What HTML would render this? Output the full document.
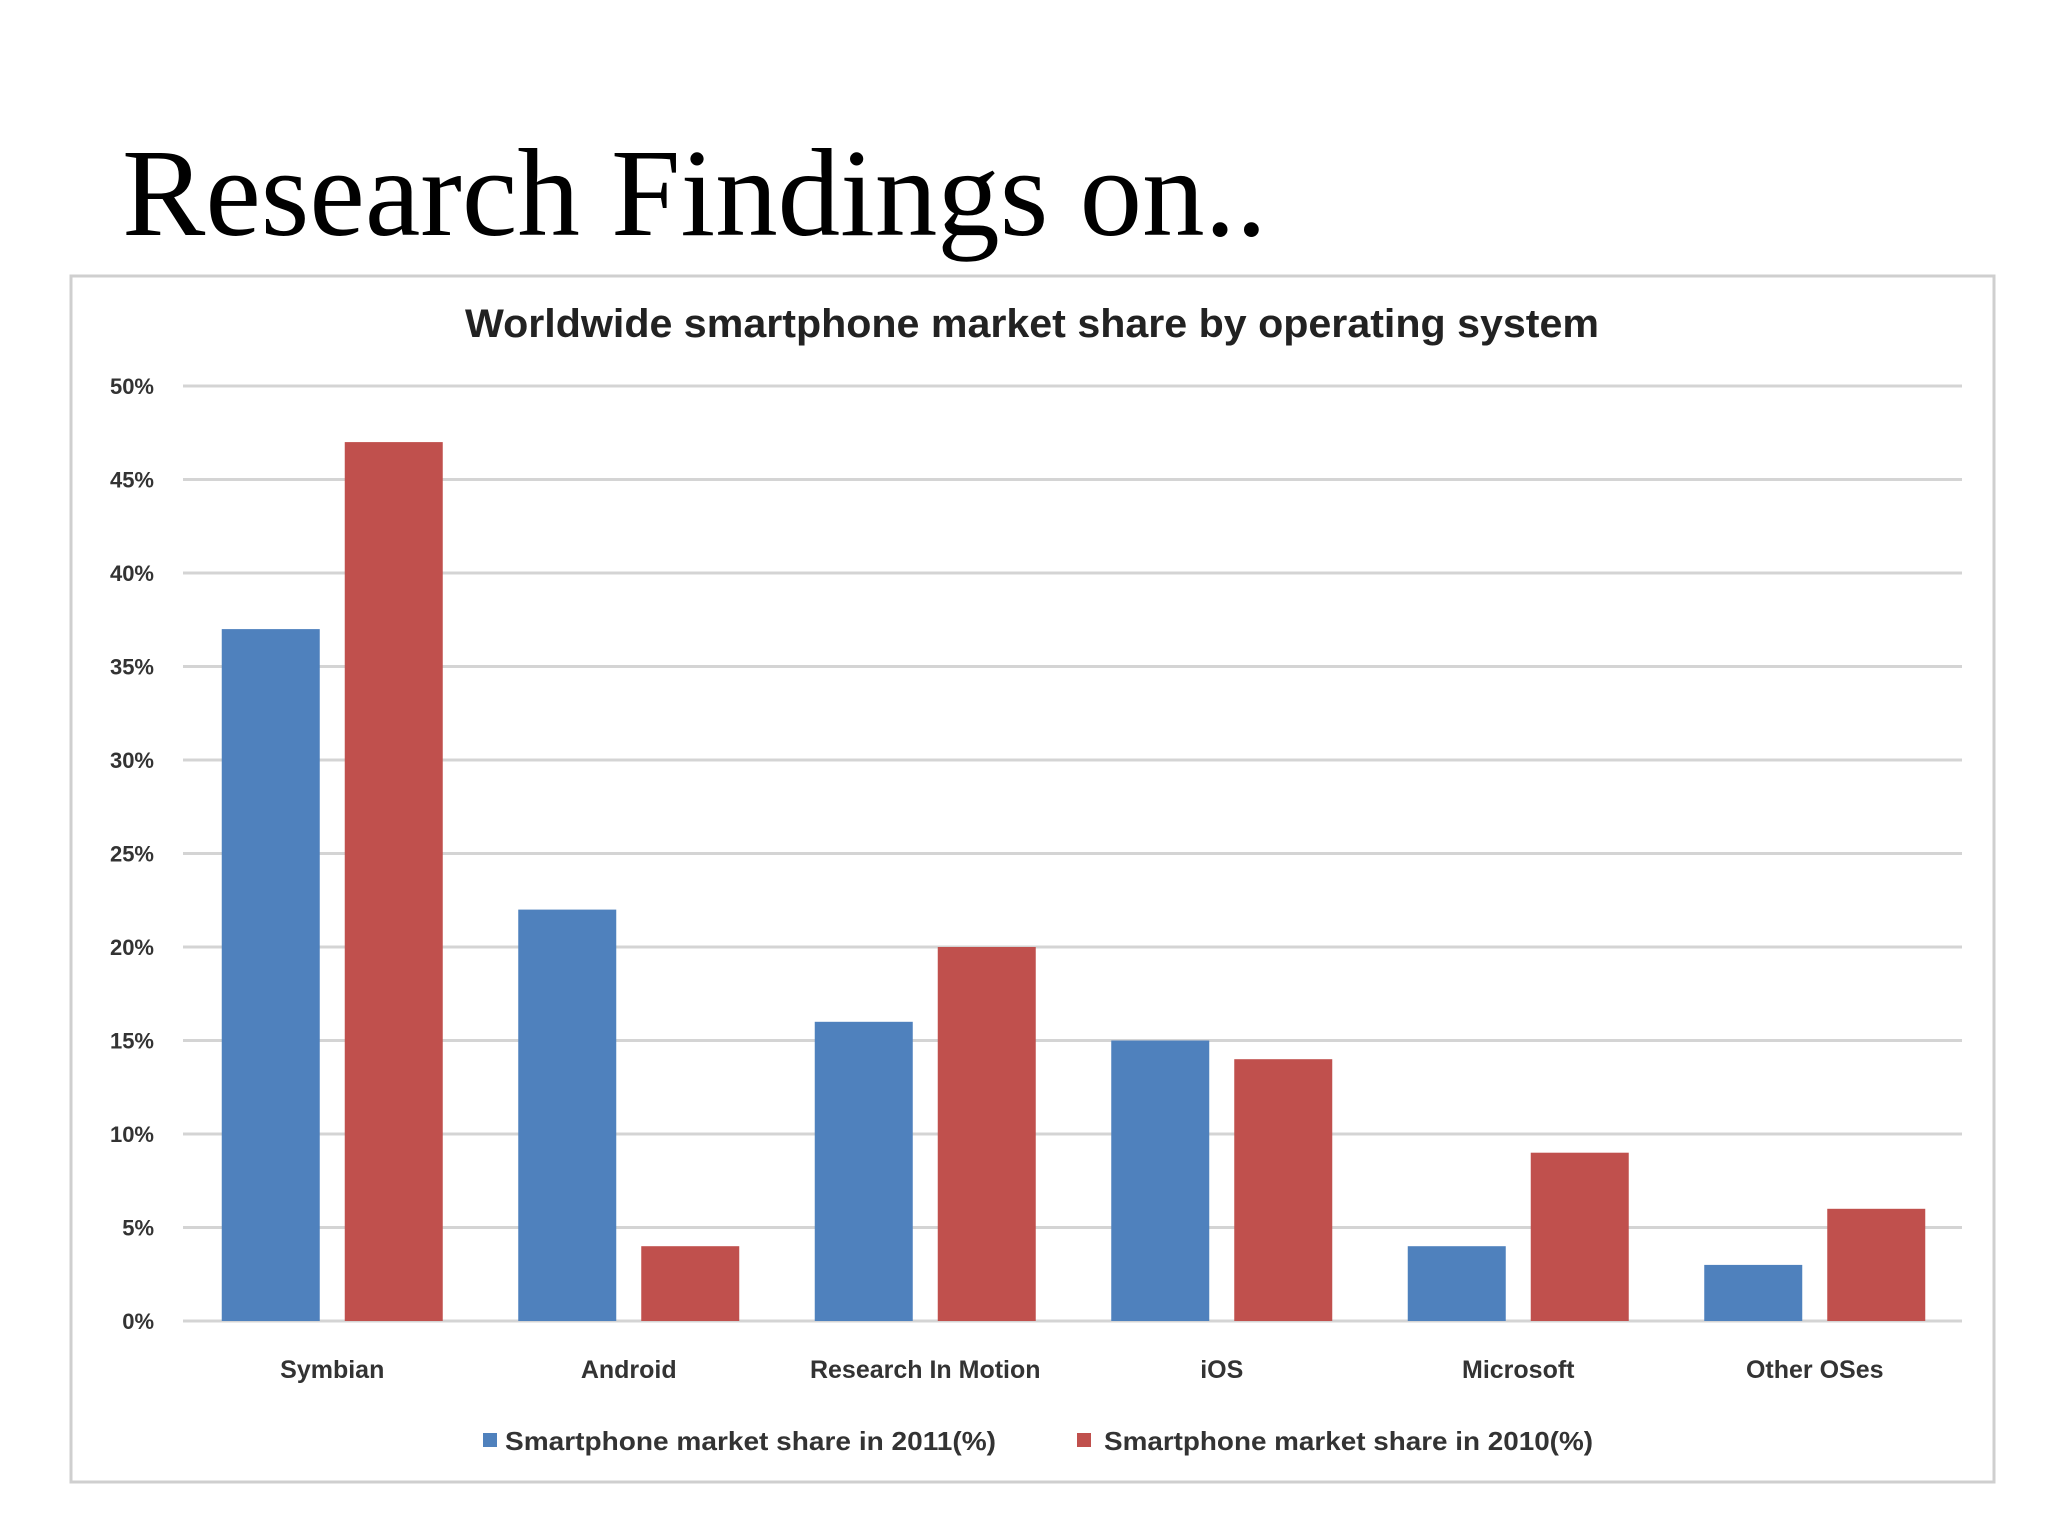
<!DOCTYPE html>
<html><head><meta charset="utf-8"><style>
html,body{margin:0;padding:0;background:#fff;}
svg{display:block;}
</style></head><body>
<svg width="2048" height="1536" viewBox="0 0 2048 1536" xmlns="http://www.w3.org/2000/svg">
<text x="122" y="235" font-family="'Liberation Serif',serif" font-size="125" fill="#000" textLength="1145" lengthAdjust="spacingAndGlyphs">Research Findings on..</text>
<rect x="71" y="276" width="1923" height="1206" fill="#fff" stroke="#cfcfcf" stroke-width="3"/>
<text x="1032" y="337" text-anchor="middle" font-family="'Liberation Sans',sans-serif" font-weight="bold" font-size="40" fill="#222" textLength="1134" lengthAdjust="spacingAndGlyphs">Worldwide smartphone market share by operating system</text>
<g id="grid"></g>
<g id="bars"></g>
<g id="xlabels"></g>
<rect x="483" y="1433" width="14" height="14" fill="#4f81bd"/>
<text x="505" y="1450" font-family="'Liberation Sans',sans-serif" font-weight="bold" font-size="26" fill="#333" textLength="491" lengthAdjust="spacingAndGlyphs">Smartphone market share in 2011(%)</text>
<rect x="1077" y="1433" width="14" height="14" fill="#c0504d"/>
<text x="1104" y="1450" font-family="'Liberation Sans',sans-serif" font-weight="bold" font-size="26" fill="#333" textLength="489" lengthAdjust="spacingAndGlyphs">Smartphone market share in 2010(%)</text>
</svg>
<script>
const categories = ["Symbian","Android","Research In Motion","iOS","Microsoft","Other OSes"];
const share2011 = [37,22,16,15,4,3];
const share2010 = [47,4,20,14,9,6];
const yTicks = [0,5,10,15,20,25,30,35,40,45,50];
const yTickLabels = ["0%","5%","10%","15%","20%","25%","30%","35%","40%","45%","50%"];

const NS="http://www.w3.org/2000/svg";
const y0=1321, y50=386, plotL=183, plotR=1962;
function yScale(v){return y0-(y0-y50)*v/50;}
const step=(plotR-plotL)/categories.length;
function xCenter(i){return plotL+step*(i+0.5)+1;}
function mk(tag,attrs,parent){const e=document.createElementNS(NS,tag);for(const k in attrs)e.setAttribute(k,attrs[k]);parent.appendChild(e);return e;}
const grid=document.getElementById('grid'),bars=document.getElementById('bars'),xl=document.getElementById('xlabels');
yTicks.forEach((t,i)=>{
  const y=yScale(t);
  const l=mk('line',{x1:plotL,x2:plotR,y1:y,y2:y,stroke:'#d4d4d4','stroke-width':3},grid);
  
  
  const tx=mk('text',{x:154,y:y+8,'text-anchor':'end','font-family':"'Liberation Sans',sans-serif",'font-weight':'bold','font-size':22,fill:'#333'},grid);
  tx.textContent=yTickLabels[i];
  
  
});
const bw=98, gap=25;
categories.forEach((c,i)=>{
  const cx=xCenter(i);
  const b1=mk('rect',{x:cx-gap/2-bw,y:yScale(share2011[i]),width:bw,height:y0-yScale(share2011[i]),fill:'#4f81bd'},bars);
  
  
  const b2=mk('rect',{x:cx+gap/2,y:yScale(share2010[i]),width:bw,height:y0-yScale(share2010[i]),fill:'#c0504d'},bars);
  
  
  const t=mk('text',{x:cx,y:1378,'text-anchor':'middle','font-family':"'Liberation Sans',sans-serif",'font-weight':'bold','font-size':25,fill:'#333'},xl);
  t.textContent=c;
  
  
});
</script>
</body></html>
